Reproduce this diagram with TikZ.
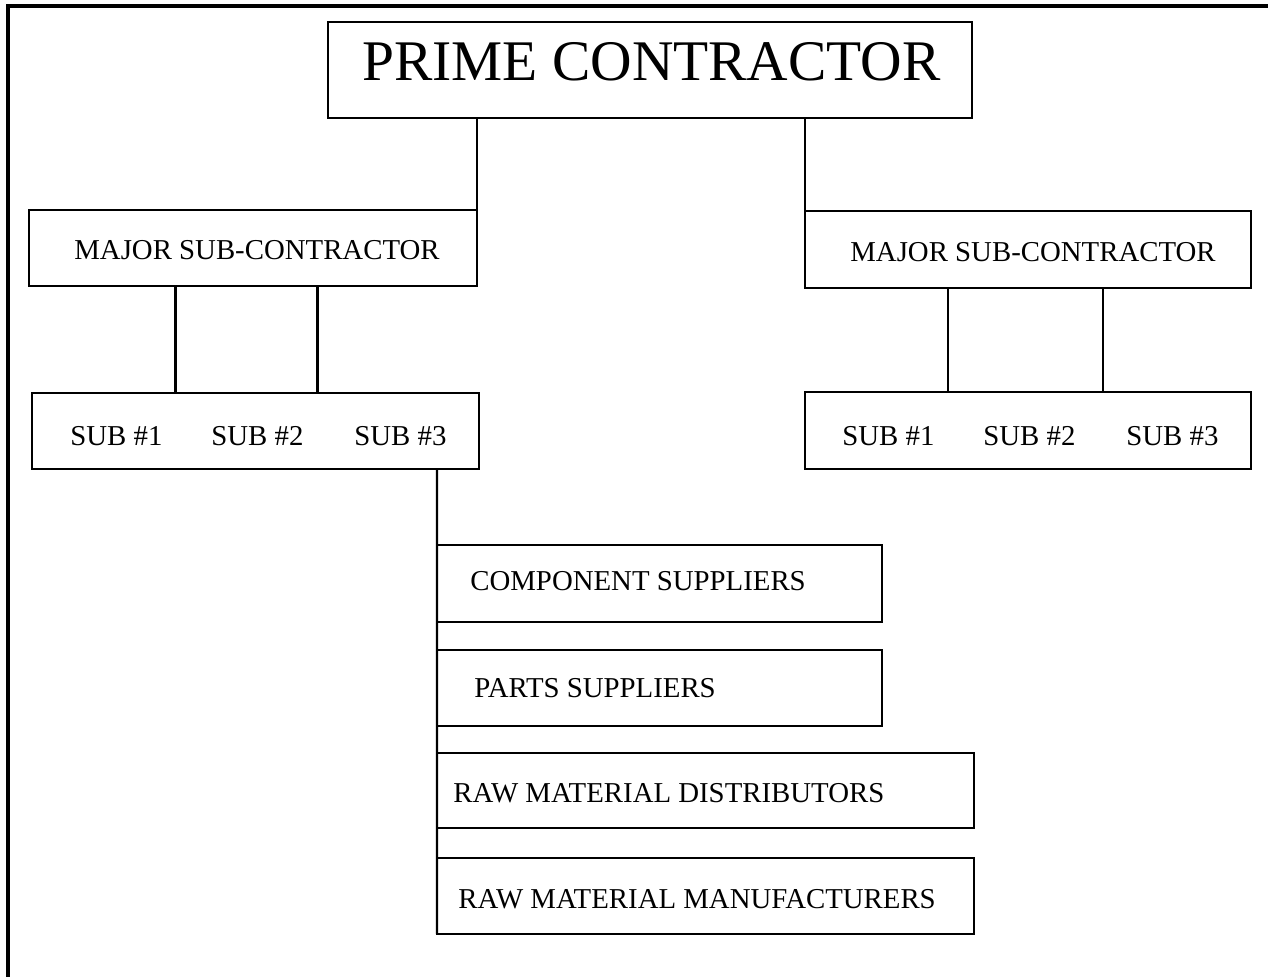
\documentclass[tikz,border=0pt]{standalone}
\usepackage{fontspec}
\setmainfont{Liberation Serif}
\usetikzlibrary{calc}
\begin{document}
\begin{tikzpicture}[x=0.02cm,y=-0.02cm,
    box/.style={draw,line width=1.3pt,rectangle,inner sep=0pt,outer sep=0pt},
    txt/.style={anchor=base west,inner sep=0pt,font=\fontsize{16.4}{19}\selectfont},
    link/.style={line width=1.3pt}]
    \useasboundingbox (0,0) rectangle (1268,977);
    \draw[line width=1.8pt] (8,977) -- (8,6) -- (1268,6);

    \node[box,minimum width=12.88cm,minimum height=1.92cm] (prime) at (650,70) {};
    \node[box,minimum width=8.96cm,minimum height=1.52cm] (majL) at (253,248) {};
    \node[box,minimum width=8.92cm,minimum height=1.54cm] (majR) at (1028,249.5) {};
    \node[box,minimum width=8.94cm,minimum height=1.52cm] (subL) at (255.5,431) {};
    \node[box,minimum width=8.92cm,minimum height=1.54cm] (subR) at (1028,430.5) {};
    \node[box,minimum width=8.9cm,minimum height=1.54cm] (comp) at (659.5,583.5) {};
    \node[box,minimum width=8.9cm,minimum height=1.52cm] (parts) at (659.5,688) {};
    \node[box,minimum width=10.74cm,minimum height=1.5cm] (rawdist) at (705.5,790.5) {};
    \node[box,minimum width=10.74cm,minimum height=1.52cm] (rawmfr) at (705.5,896) {};

    \node[txt,font=\fontsize{32.7}{38}\selectfont] (primeT) at (362,80) {PRIME CONTRACTOR};
    \node[txt] (majLT) at (74,259) {MAJOR SUB-CONTRACTOR};
    \node[txt] (majRT) at (850,261) {MAJOR SUB-CONTRACTOR};
    \node[txt] (subL1) at (70,445) {SUB \#1};
    \node[txt] (subL2) at (211,445) {SUB \#2};
    \node[txt] (subL3) at (354,445) {SUB \#3};
    \node[txt] (subR1) at (842,445) {SUB \#1};
    \node[txt] (subR2) at (983,445) {SUB \#2};
    \node[txt] (subR3) at (1126,445) {SUB \#3};
    \node[txt] (compT) at (470,590) {COMPONENT SUPPLIERS};
    \node[txt] (partsT) at (474,697) {PARTS SUPPLIERS};
    \node[txt] (rawdistT) at (453,802) {RAW MATERIAL DISTRIBUTORS};
    \node[txt] (rawmfrT) at (458,908) {RAW MATERIAL MANUFACTURERS};

    \draw[link] (majL.north east) -- (majL.north east |- prime.south);
    \draw[link] (majR.north west) -- (majR.north west |- prime.south);

    \coordinate (aL) at ($(majL.south west)!0.327!(majL.south east)$);
    \coordinate (bL) at ($(majL.south west)!0.644!(majL.south east)$);
    \coordinate (aR) at ($(majR.south west)!0.32!(majR.south east)$);
    \coordinate (bR) at ($(majR.south west)!0.668!(majR.south east)$);
    \draw[link] (aL) -- (aL |- subL.north);
    \draw[link] (bL) -- (bL |- subL.north);
    \draw[link] (aR) -- (aR |- subR.north);
    \draw[link] (bR) -- (bR |- subR.north);

    \draw[link] (subL.south -| comp.west) -- (rawmfr.south west);
\end{tikzpicture}
\end{document}
